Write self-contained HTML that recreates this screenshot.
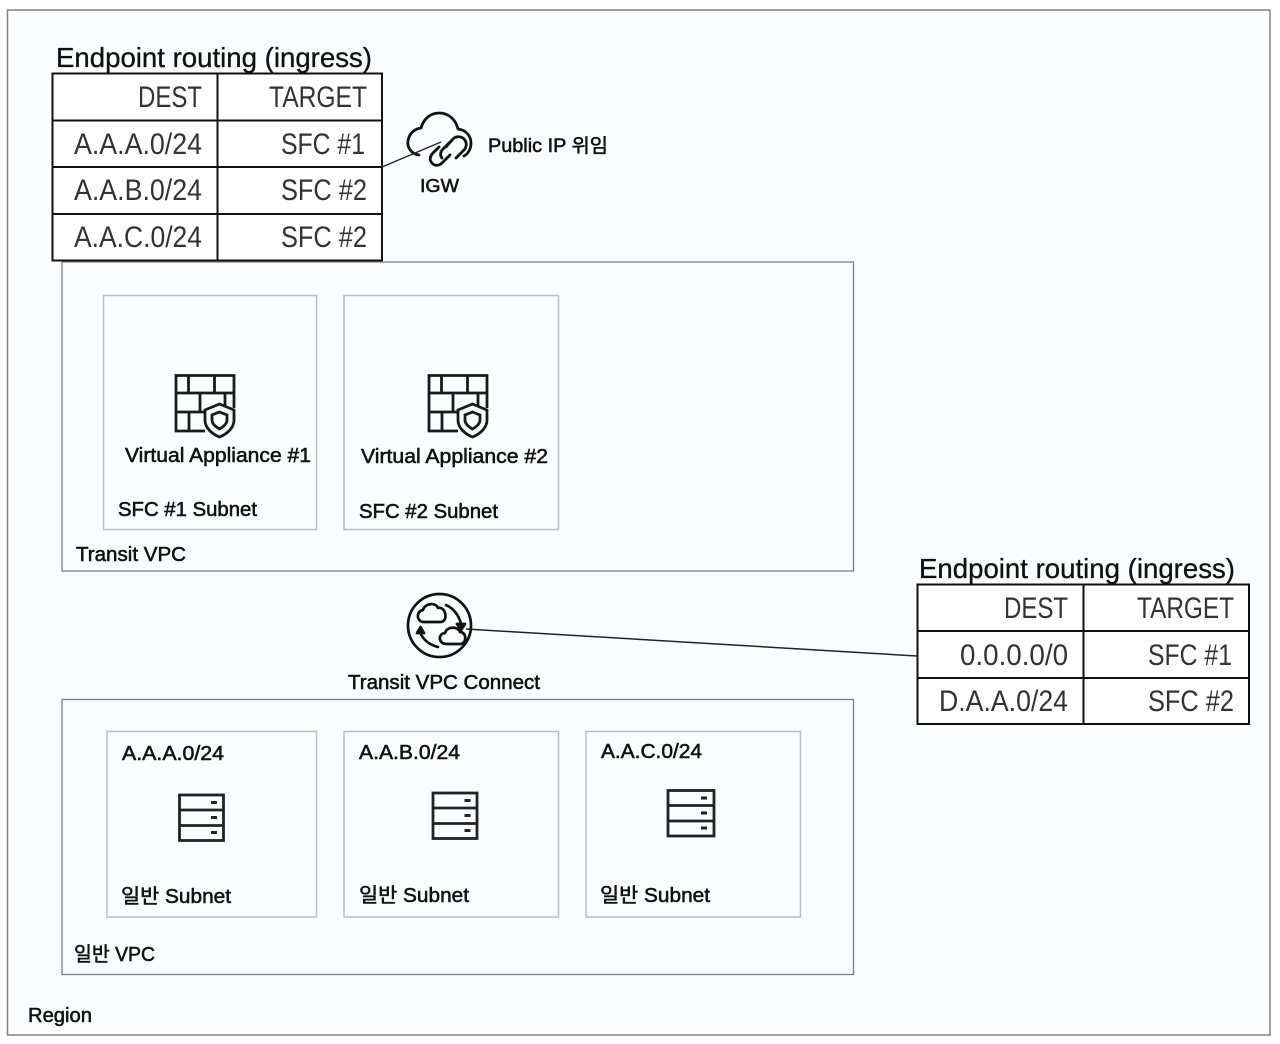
<!DOCTYPE html>
<html><head><meta charset="utf-8">
<style>
html,body{margin:0;padding:0;background:#fff;width:1280px;height:1044px;overflow:hidden}
svg{display:block}
text{font-family:"Liberation Sans","Noto Sans CJK KR",sans-serif;fill:#111}
.t{font-size:30px;fill:#333;font-weight:400}
.h{font-size:28px;fill:#111;stroke:#111;stroke-width:.35px}
.l{font-size:20px;font-weight:400;stroke:#111;stroke-width:.55px}
</style></head><body>
<svg width="1280" height="1044" viewBox="0 0 1280 1044" xmlns="http://www.w3.org/2000/svg">
<rect x="7.5" y="10" width="1262.5" height="1025" fill="#fafdff" stroke="#808080" stroke-width="1.5"/>

<rect x="62" y="262" width="791.5" height="309" fill="#fafdff" stroke="#808080" stroke-width="1.3"/>
<rect x="103.5" y="295.5" width="213" height="234" fill="#fafdff" stroke="#bdbdbd" stroke-width="1.5"/>
<rect x="344" y="295.5" width="214.5" height="234" fill="#fafdff" stroke="#bdbdbd" stroke-width="1.5"/>
<rect x="62" y="699.5" width="791.5" height="275" fill="#fafdff" stroke="#808080" stroke-width="1.3"/>
<rect x="107" y="731.5" width="209.5" height="185.5" fill="#fafdff" stroke="#bdbdbd" stroke-width="1.5"/>
<rect x="344" y="731.5" width="214.5" height="185.5" fill="#fafdff" stroke="#bdbdbd" stroke-width="1.5"/>
<rect x="586" y="731.5" width="214.5" height="185.5" fill="#fafdff" stroke="#bdbdbd" stroke-width="1.5"/>

<!-- Table 1 -->
<text class="h" x="56" y="67" textLength="316" lengthAdjust="spacingAndGlyphs">Endpoint routing (ingress)</text>
<rect x="52.5" y="73.5" width="329.5" height="187" fill="#fff" stroke="#111" stroke-width="2"/>
<path d="M217.5 73V260M52 120.500H382M52 167H382M52 214H382" stroke="#111" stroke-width="2" fill="none"/>
<text class="t" x="202" y="107" text-anchor="end" textLength="64" lengthAdjust="spacingAndGlyphs">DEST</text>
<text class="t" x="367" y="107" text-anchor="end" textLength="98" lengthAdjust="spacingAndGlyphs">TARGET</text>
<text class="t" x="202" y="154" text-anchor="end" textLength="128" lengthAdjust="spacingAndGlyphs">A.A.A.0/24</text>
<text class="t" x="365" y="154" text-anchor="end" textLength="84" lengthAdjust="spacingAndGlyphs">SFC #1</text>
<text class="t" x="202" y="200" text-anchor="end" textLength="128" lengthAdjust="spacingAndGlyphs">A.A.B.0/24</text>
<text class="t" x="367" y="200" text-anchor="end" textLength="86" lengthAdjust="spacingAndGlyphs">SFC #2</text>
<text class="t" x="202" y="247" text-anchor="end" textLength="128" lengthAdjust="spacingAndGlyphs">A.A.C.0/24</text>
<text class="t" x="367" y="247" text-anchor="end" textLength="86" lengthAdjust="spacingAndGlyphs">SFC #2</text>

<!-- Table 2 -->
<text class="h" x="919" y="578" textLength="316" lengthAdjust="spacingAndGlyphs">Endpoint routing (ingress)</text>
<rect x="917.500" y="584.500" width="331.5" height="139.500" fill="#fff" stroke="#111" stroke-width="2"/>
<path d="M1083.500 584V724M917 631H1249M917 678H1249" stroke="#111" stroke-width="2" fill="none"/>
<text class="t" x="1068" y="618" text-anchor="end" textLength="64" lengthAdjust="spacingAndGlyphs">DEST</text>
<text class="t" x="1234" y="618" text-anchor="end" textLength="97" lengthAdjust="spacingAndGlyphs">TARGET</text>
<text class="t" x="1068" y="665" text-anchor="end" textLength="108" lengthAdjust="spacingAndGlyphs">0.0.0.0/0</text>
<text class="t" x="1232" y="665" text-anchor="end" textLength="84" lengthAdjust="spacingAndGlyphs">SFC #1</text>
<text class="t" x="1068" y="711" text-anchor="end" textLength="129" lengthAdjust="spacingAndGlyphs">D.A.A.0/24</text>
<text class="t" x="1234" y="711" text-anchor="end" textLength="86" lengthAdjust="spacingAndGlyphs">SFC #2</text>

<!-- IGW icon -->
<g fill="none" stroke="#111" stroke-width="2.800" stroke-linecap="round" stroke-linejoin="round">
<path d="M419 155C411 154 407 147 408 141C409 134 414 129 421 128C424 118 431 113 439 113C449 113 456 120 458 129C466 130 471 136 471 143C471 149 468 154 464 156"/>
<path d="M446 147L453 139C456 136 461 136 464 139C467 142 467 147 464 150L456 158"/>
<path d="M451 141L443 149C440 152 440 156 442 158"/>
<path d="M450 155L442 163C439 166 434 166 432 163C429 160 430 156 433 153L439 147"/>
</g>

<!-- connectors -->
<path d="M382 167L441 142" stroke="#222" stroke-width="1.4" fill="none"/>
<path d="M466 629L917 656" stroke="#222" stroke-width="1.500" fill="none"/>

<text class="l" x="488" y="152" textLength="120" lengthAdjust="spacingAndGlyphs" style="font-size:19px">Public IP 위임</text>
<text class="l" x="420" y="192" style="font-size:18px" textLength="39" lengthAdjust="spacingAndGlyphs">IGW</text>

<!-- Firewall icons -->
<g fill="none" stroke="#1a1a1a" stroke-width="2.800">
<path d="M205 431H176V375.500H234V408"/>
<path d="M176 393H234M176 412H206M188.500 375.500V393M214.500 375.500V393M200 393V412M225 393V406M189 412V431"/>
<path d="M219.500 404L234 410V420C234 428 227 434 219.500 437C212 434 205 428 205 420V410Z" fill="#fafdff"/>
<path d="M219.500 412L227 415V420C227 424 223 427 219.500 429C216 427 212 424 212 420V415Z"/>
</g>
<g fill="none" stroke="#1a1a1a" stroke-width="2.800" transform="translate(253,0)">
<path d="M205 431H176V375.500H234V408"/>
<path d="M176 393H234M176 412H206M188.500 375.500V393M214.500 375.500V393M200 393V412M225 393V406M189 412V431"/>
<path d="M219.500 404L234 410V420C234 428 227 434 219.500 437C212 434 205 428 205 420V410Z" fill="#fafdff"/>
<path d="M219.500 412L227 415V420C227 424 223 427 219.500 429C216 427 212 424 212 420V415Z"/>
</g>

<!-- Transit icon -->
<g fill="none" stroke="#111" stroke-width="2.700" stroke-linecap="round" stroke-linejoin="round">
<circle cx="439.500" cy="625.500" r="31.500"/>
<path d="M424 622C416 622 416 611 423 610C425 603 436 602 438 608C446 606 449 622 440 622Z"/>
<path d="M446 644C439 644 437 634 445 633C447 626 458 626 460 632C467 632 467 644 460 644Z"/>
<path d="M446 605C453 608 459 615 461 624"/>
<path d="M457 624H465L461 630Z" fill="#111"/>
<path d="M438 647C430 645 423 640 420 632"/>
<path d="M417 633L420.500 627L424 633Z" fill="#111"/>
</g>

<!-- Server icons -->
<g fill="none" stroke="#222" stroke-width="2.800">
<rect x="179.500" y="795" width="44" height="45.500"/><path d="M179.500 810H223.500M179.500 825.500H223.500"/>
<path d="M211 802.500H217M211 817.500H217M211 832.500H217" stroke-width="3"/>
<rect x="433" y="793" width="44" height="45.500"/><path d="M433 808H477M433 823.500H477"/>
<path d="M464.500 800.500H470.500M464.500 815.500H470.500M464.500 830.500H470.500" stroke-width="3"/>
<rect x="668" y="790.500" width="46" height="45.500"/><path d="M668 805.500H714M668 821H714"/>
<path d="M701 798H707M701 813H707M701 828H707" stroke-width="3"/>
</g>

<!-- labels -->
<text class="l" x="125" y="462" textLength="186" lengthAdjust="spacingAndGlyphs">Virtual Appliance #1</text>
<text class="l" x="361" y="463" textLength="187" lengthAdjust="spacingAndGlyphs">Virtual Appliance #2</text>
<text class="l" x="118" y="516" textLength="139" lengthAdjust="spacingAndGlyphs">SFC #1 Subnet</text>
<text class="l" x="359" y="518" textLength="139" lengthAdjust="spacingAndGlyphs">SFC #2 Subnet</text>
<text class="l" x="76" y="561" textLength="110" lengthAdjust="spacingAndGlyphs">Transit VPC</text>
<text class="l" x="348" y="689" textLength="192" lengthAdjust="spacingAndGlyphs">Transit VPC Connect</text>
<text class="l" x="122" y="760" textLength="102" lengthAdjust="spacingAndGlyphs">A.A.A.0/24</text>
<text class="l" x="359" y="759" textLength="101" lengthAdjust="spacingAndGlyphs">A.A.B.0/24</text>
<text class="l" x="601" y="758" textLength="101" lengthAdjust="spacingAndGlyphs">A.A.C.0/24</text>
<text class="l" x="121" y="903" textLength="110" lengthAdjust="spacingAndGlyphs">일반 Subnet</text>
<text class="l" x="359" y="902" textLength="110" lengthAdjust="spacingAndGlyphs">일반 Subnet</text>
<text class="l" x="600" y="902" textLength="110" lengthAdjust="spacingAndGlyphs">일반 Subnet</text>
<text class="l" x="74" y="961" textLength="81" lengthAdjust="spacingAndGlyphs">일반 VPC</text>
<text class="l" x="28" y="1022" textLength="64" lengthAdjust="spacingAndGlyphs">Region</text>
</svg>
</body></html>
